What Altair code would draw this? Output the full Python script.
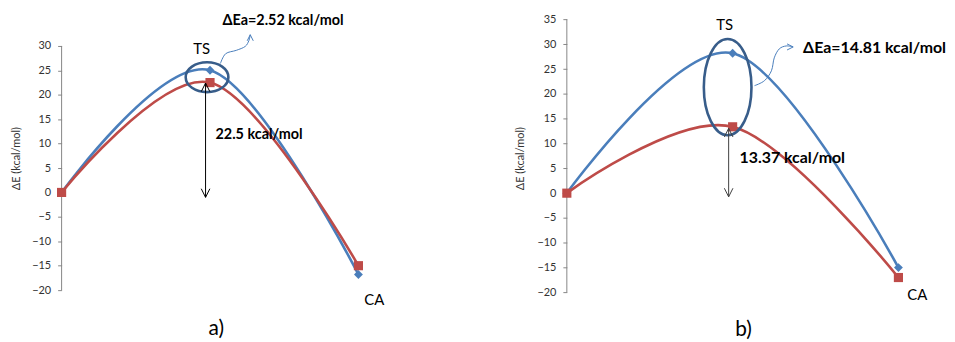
import altair as alt
import pandas as pd

# ---- data -------------------------------------------------------------
stage = [0, 1, 2]                      # R, TS, CA
a_blue = [0, 25.02, -16.8]
a_red = [0, 22.5, -15.0]
b_blue = [0, 28.18, -15.0]
b_red = [0, 13.37, -17.0]
ticks_a = [-20, -15, -10, -5, 0, 5, 10, 15, 20, 25, 30]
ticks_b = [-20, -15, -10, -5, 0, 5, 10, 15, 20, 25, 30, 35]

BLUE = "#4a7ebb"
RED = "#be4b48"
ELL = "#385d8a"
FONT = "Lato"
K = 0.5523


def ellipse_path(ax, ay):
    return (f"M {ax} 0 C {ax} {ay*K:.4f} {ax*K:.4f} {ay} 0 {ay} "
            f"C {-ax*K:.4f} {ay} {-ax} {ay*K:.4f} {-ax} 0 "
            f"C {-ax} {-ay*K:.4f} {-ax*K:.4f} {-ay} 0 {-ay} "
            f"C {ax*K:.4f} {-ay} {ax} {-ay*K:.4f} {ax} 0 Z")


UP = "M -0.5 1 L 0 0 L 0.5 1"
DOWN = "M -0.5 -1 L 0 0 L 0.5 -1"
RIGHT = "M -1 -0.5 L 0 0 L -1 0.5"


def panel(blue, red, ticks, xdom, ydom, width, height, ann):
    xs = alt.Scale(domain=xdom, nice=False, zero=False)
    ys = alt.Scale(domain=ydom, nice=False, zero=False)
    yaxis = alt.Axis(
        values=ticks, domain=False, grid=False, tickSize=4, tickColor="#868686",
        labelFont=FONT, labelFontSize=11, labelColor="#333333", labelPadding=7,
        title="ΔE (kcal/mol)", titleFont=FONT, titleFontSize=11,
        titleFontWeight="normal", titleColor="#333333", titlePadding=ann["tpad"])
    X = lambda: alt.X("x:Q", scale=xs, axis=None)
    Y = lambda: alt.Y("y:Q", scale=ys, axis=yaxis)

    df = pd.DataFrame({
        "x": stage * 2,
        "y": blue + red,
        "s": ["blue"] * 3 + ["red"] * 3,
    })
    dblue = df[df.s == "blue"]
    dred = df[df.s == "red"]

    axis_layer = alt.Chart(pd.DataFrame({"x": [0], "y": [ticks[0]], "y2": [ticks[-1]]})).mark_rule(
        color="#868686", strokeWidth=1
    ).encode(x=X(), y=Y(), y2="y2:Q")

    line_b = alt.Chart(dblue).mark_line(color=BLUE, strokeWidth=2.6, interpolate="cardinal").encode(
        x=X(), y=Y(), order="x:Q")
    line_r = alt.Chart(dred).mark_line(color=RED, strokeWidth=2.6, interpolate="cardinal").encode(
        x=X(), y=Y(), order="x:Q")
    pts_b = alt.Chart(dblue).mark_point(shape="diamond", filled=True, color=BLUE, size=80, opacity=1).encode(
        x=X(), y=Y())
    pts_r = alt.Chart(dred).mark_point(shape="square", filled=True, color=RED, size=85, opacity=1).encode(
        x=X(), y=Y())

    ell = alt.Chart(pd.DataFrame({"x": [ann["ell"][0]], "y": [ann["ell"][1]]})).mark_point(
        shape=ellipse_path(ann["ell"][2], ann["ell"][3]), filled=False, color=ELL,
        strokeWidth=2.6, size=ann["ell"][4], opacity=1
    ).encode(x=X(), y=Y())

    ax_, ytop, ybot, acol = ann["arrow"]
    arr = alt.Chart(pd.DataFrame({"x": [ax_], "y": [ytop], "y2": [ybot]})).mark_rule(
        color=acol, strokeWidth=1).encode(x=X(), y=Y(), y2="y2:Q")
    head_up = alt.Chart(pd.DataFrame({"x": [ax_], "y": [ytop]})).mark_point(
        shape=UP, filled=False, color=acol, strokeWidth=1, size=300, opacity=1).encode(x=X(), y=Y())
    head_dn = alt.Chart(pd.DataFrame({"x": [ax_], "y": [ybot]})).mark_point(
        shape=DOWN, filled=False, color=acol, strokeWidth=1, size=300, opacity=1).encode(x=X(), y=Y())

    cx, cy = ann["curl"]
    curl = alt.Chart(pd.DataFrame({"x": cx, "y": cy, "i": list(range(len(cx)))})).mark_line(
        color=BLUE, strokeWidth=1, interpolate="cardinal").encode(x=X(), y=Y(), order="i:Q")
    curl_head = alt.Chart(pd.DataFrame({"x": [cx[-1]], "y": [cy[-1]]})).mark_point(
        shape=ann["curl_dir"], filled=False, color=BLUE, strokeWidth=1, size=150, opacity=1
    ).encode(x=X(), y=Y())

    texts = []
    for (tx, ty, txt, size, weight, align) in ann["texts"]:
        texts.append(alt.Chart(pd.DataFrame({"x": [tx], "y": [ty], "t": [txt]})).mark_text(
            font=FONT, fontSize=size, fontWeight=weight, align=align, baseline="middle",
            color="black").encode(x=X(), y=Y(), text="t:N"))

    return alt.layer(axis_layer, line_b, line_r, pts_b, pts_r, ell, arr, head_up, head_dn,
                     curl, curl_head, *texts).properties(width=width, height=height)


ann_a = {
    "tpad": 10,
    "ell": (0.98, 23.6, 1, 0.698, 1849),
    "arrow": (0.97, 22.4, -1.0, "black"),
    "curl": ([1.070, 1.105, 1.177, 1.237, 1.262, 1.271],
             [26.4, 28.4, 29.1, 29.9, 31.1, 32.3]),
    "curl_dir": UP,
    "texts": [
        (1.084, 35.2, "ΔEa=2.52 kcal/mol", 14.5, "bold", "left"),
        (1.037, 11.8, "22.5 kcal/mol", 14.5, "bold", "left"),
        (0.943, 29.3, "TS", 15, "normal", "center"),
        (2.107, -21.95, "CA", 15, "normal", "center"),
        (1.043, -28.0, "a)", 21, "normal", "center"),
    ],
}

ann_b = {
    "tpad": 12,
    "ell": (0.97, 21.36, 0.495, 1, 9409),
    "arrow": (0.976, 13.06, -0.74, "#404040"),
    "curl": ([1.132, 1.192, 1.234, 1.251, 1.281, 1.323, 1.365],
             [21.66, 22.66, 24.66, 27.26, 29.06, 29.66, 29.46]),
    "curl_dir": RIGHT,
    "texts": [
        (1.425, 29.26, "ΔEa=14.81 kcal/mol", 16, "bold", "left"),
        (1.042, 7.06, "13.37 kcal/mol", 16, "bold", "left"),
        (0.952, 33.86, "TS", 15, "normal", "center"),
        (2.114, -20.54, "CA", 15, "normal", "center"),
        (1.066, -27.5, "b)", 21, "normal", "center"),
    ],
}

pa = panel(a_blue, a_red, ticks_a, [0, 2.274], [-23.46, 37.52], 340, 300, ann_a)
pb = panel(b_blue, b_red, ticks_b, [0, 2.293], [-22.94, 37.06], 383, 300, ann_b)

chart = alt.hconcat(pa, pb, spacing=169, bounds="flush").properties(
    padding={"left": 2, "top": 0, "right": 0, "bottom": 0}
).configure_view(stroke=None)

chart.save("out.html", embed_options={"renderer": "svg", "actions": False})
